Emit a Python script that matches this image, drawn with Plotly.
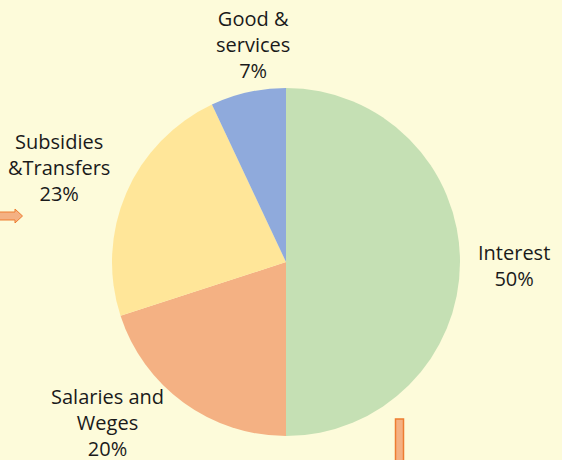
import plotly.graph_objects as go

# ---- data ----
categories = ["Interest", "Salaries and<br>Weges", "Subsidies<br>&Transfers", "Good &<br>services"]
shares = [50, 20, 23, 7]
colors = ["#C5E0B4", "#F4B183", "#FFE699", "#8FAADC"]

W, H = 562, 460
BG = "#FDFBDA"
FONT = "Open Sans"

fig = go.Figure(go.Pie(
    labels=categories,
    values=shares,
    sort=False,
    direction="clockwise",
    rotation=0,
    marker=dict(colors=colors, line=dict(width=0)),
    textinfo="none",
    hoverinfo="label+percent",
    showlegend=False,
    domain=dict(x=[(286 - 174) / W, (286 + 174) / W],
                y=[(H - 262 - 174) / H, (H - 262 + 174) / H]),
))

# label placement (pixel centres of the label blocks)
label_pos = [(514, 265), (107, 422), (59, 167), (253, 44)]
total = sum(shares)
for name, v, (px, py) in zip(categories, shares, label_pos):
    fig.add_annotation(
        x=px / W, y=1 - py / H, xref="paper", yref="paper",
        text=f"{name}<br>{round(100 * v / total)}%",
        showarrow=False, xanchor="center", yanchor="middle",
        align="center", font=dict(family=FONT, size=20, color="#1a1a1a"),
    )

def px2paper(pts):
    return " ".join(
        ("M" if i == 0 else "L") + f"{x / W:.5f},{1 - y / H:.5f}"
        for i, (x, y) in enumerate(pts)
    ) + " Z"

# decorative arrow on the left
arrow = [(-2, 212), (15, 212), (15, 209), (22.5, 216), (15, 223), (15, 220), (-2, 220)]
fig.add_shape(type="path", xref="paper", yref="paper", path=px2paper(arrow),
              fillcolor="#F4B183", line=dict(color="#ED7D31", width=1))
# decorative bar at the bottom
fig.add_shape(type="rect", xref="paper", yref="paper",
              x0=395.5 / W, x1=403.5 / W, y0=1 - 419 / H, y1=1 - 465 / H,
              fillcolor="#F4B183", line=dict(color="#ED7D31", width=1.5))

fig.update_layout(
    width=W, height=H,
    margin=dict(l=0, r=0, t=0, b=0),
    paper_bgcolor=BG, plot_bgcolor=BG,
    font=dict(family=FONT),
)

fig.write_html(
    "out.html",
    config={"displayModeBar": False},
    post_script="document.body.style.margin='0';document.body.style.overflow='hidden';",
)
